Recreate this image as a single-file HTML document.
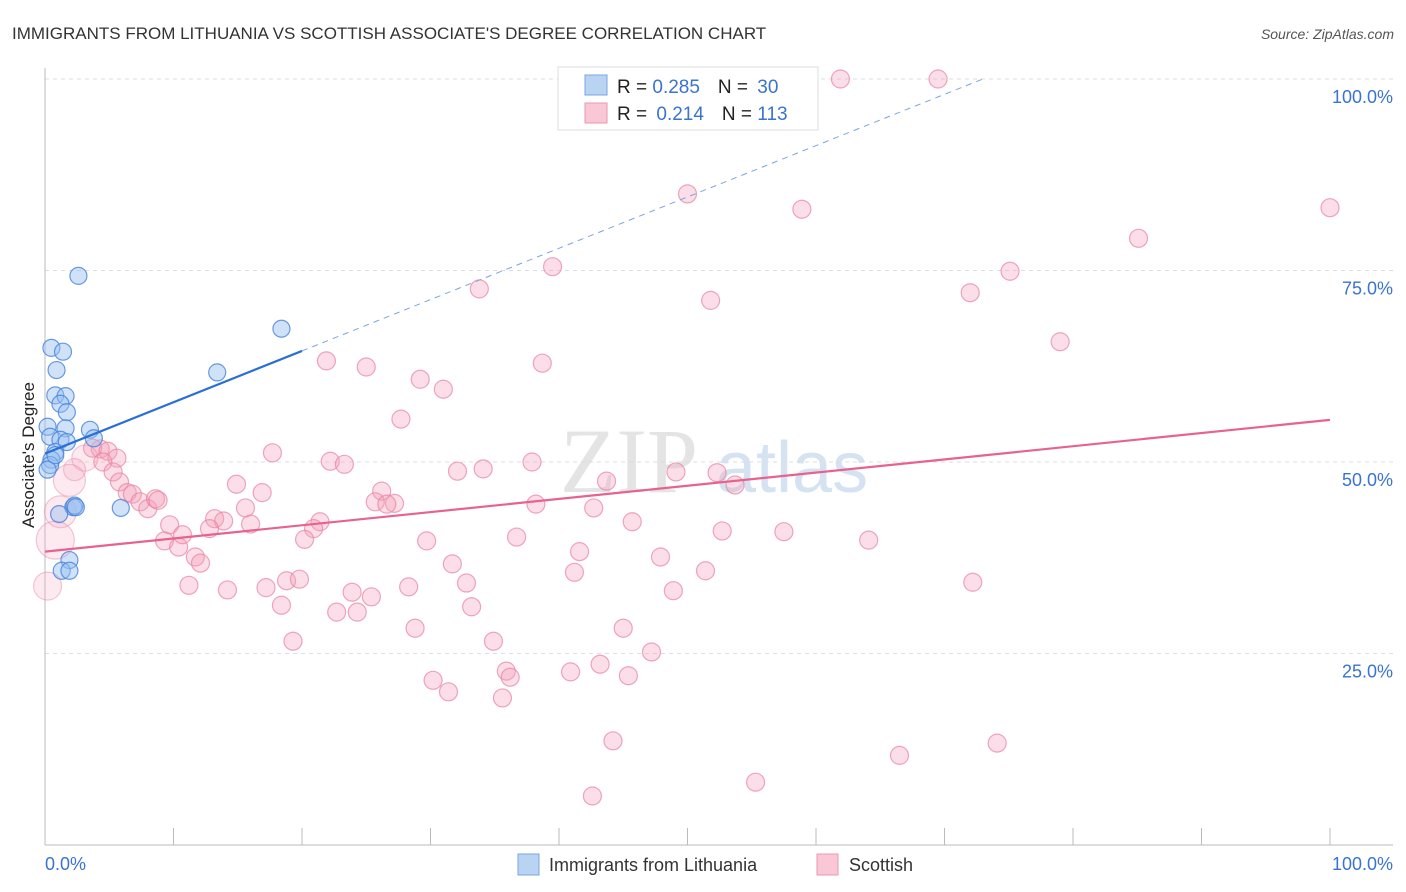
<!DOCTYPE html>
<html><head><meta charset="utf-8">
<style>
body{margin:0;background:#fff;font-family:"Liberation Sans",sans-serif;}
svg{display:block}
</style></head>
<body>
<svg id="chart" width="1406" height="892" xmlns="http://www.w3.org/2000/svg">
<text x="12" y="39" font-size="17" fill="#333">IMMIGRANTS FROM LITHUANIA VS SCOTTISH ASSOCIATE'S DEGREE CORRELATION CHART</text>
<text x="1394" y="39" font-size="14" fill="#555" font-style="italic" text-anchor="end">Source: ZipAtlas.com</text>
<text x="560" y="492" font-size="92" fill="#e4e4e4" font-family="Liberation Serif,serif">ZIP</text>
<text x="716" y="492" font-size="72" fill="#d4e2f2">atlas</text>
<g id="grid"></g>
<g id="axes"></g>
<g id="pink"></g>
<g id="blue"></g>
<g id="trends"></g>
<text x="34" y="455" font-size="17" fill="#222" text-anchor="middle" transform="rotate(-90 34 455)">Associate's Degree</text>
<g>
<rect x="558" y="67" width="260" height="63" fill="#fff" stroke="#ddd"/>
<rect x="585" y="75" width="22" height="20" fill="#b9d3f3" stroke="#7aa5e0"/>
<rect x="585" y="103" width="22" height="20" fill="#f9c7d5" stroke="#e99ab0"/>
<text x="617" y="93" font-size="19" fill="#222">R = <tspan fill="#3a73d0">0.285</tspan><tspan dx="18">N = </tspan><tspan fill="#3a73d0" dx="4">30</tspan></text>
<text x="617" y="120" font-size="19" fill="#222">R = <tspan fill="#3a73d0" dx="4">0.214</tspan><tspan dx="18">N = </tspan><tspan fill="#3a73d0">113</tspan></text>
</g>
<g>
<rect x="518" y="854" width="21" height="21" fill="#b9d3f3" stroke="#7aa5e0"/>
<text x="549" y="871" font-size="18" fill="#333">Immigrants from Lithuania</text>
<rect x="817" y="854" width="21" height="21" fill="#f9c7d5" stroke="#e99ab0"/>
<text x="849" y="871" font-size="18" fill="#333">Scottish</text>
</g>
</svg>
<script>
const yTicks=[25,50,75,100];
const yTickLabels=["25.0%","50.0%","75.0%","100.0%"];
const xTickVals=[0,10,20,30,40,50,60,70,80,90,100];
const xEndLabels=["0.0%","100.0%"];
const blueX=[0.2,0.4,0.5,1.4,0.9,0.8,1.6,1.2,1.7,1.6,1.2,1.7,0.8,0.5,0.4,0.2,3.5,3.8,2.6,18.4,13.4,5.9,2.2,2.3,1.1,1.9,1.3,1.9,0.8,2.4];
const blueY=[54.6,53.3,64.9,64.4,62.0,58.7,58.6,57.6,56.5,54.4,52.9,52.6,51.3,50.3,49.6,49.0,54.2,53.1,74.3,67.4,61.7,44.0,44.1,44.3,43.2,37.2,35.8,35.8,50.9,44.1];
const pinkX=[61.9,69.5,50.0,58.9,100,85.1,75.1,72.0,39.5,51.8,33.8,79.0,21.9,25.0,38.7,29.2,31.0,27.7,17.7,22.2,23.3,37.9,32.1,34.1,49.1,52.3,53.7,43.7,14.9,16.9,26.2,25.7,27.2,26.6,38.2,42.7,15.6,45.7,13.2,13.9,12.8,16.0,21.4,20.9,20.2,52.7,57.5,64.1,36.7,29.7,9.3,10.4,11.7,12.1,9.7,10.7,41.6,47.9,31.7,41.2,51.4,32.8,72.2,11.2,14.2,17.2,18.8,19.8,28.3,23.9,25.4,18.4,33.2,22.7,24.3,48.9,28.8,45.0,19.3,34.9,47.2,35.9,36.2,30.2,31.4,40.9,43.2,45.4,35.6,44.2,66.5,74.1,55.3,42.6,4.3,3.7,4.9,5.6,4.5,5.3,5.8,6.4,6.8,7.4,8.0,8.6,8.8,3.1,2.3,1.9,1.2,0.8,0.2];
const pinkY=[100,100,85.0,83.0,83.2,79.2,74.9,72.1,75.5,71.1,72.6,65.7,63.2,62.4,62.9,60.8,59.5,55.6,51.2,50.1,49.7,50.0,48.8,49.1,48.7,48.6,47.0,47.5,47.1,46.0,46.2,44.8,44.6,44.5,44.5,44.0,44.0,42.2,42.6,42.3,41.3,41.9,42.2,41.3,39.9,41.0,40.9,39.8,40.2,39.7,39.7,38.9,37.6,36.8,41.8,40.5,38.3,37.6,36.7,35.6,35.8,34.2,34.3,33.9,33.3,33.6,34.5,34.7,33.7,33.0,32.4,31.3,31.1,30.4,30.4,33.2,28.3,28.3,26.6,26.6,25.2,22.7,21.9,21.5,20.0,22.6,23.6,22.1,19.2,13.6,11.7,13.3,8.2,6.4,51.7,51.8,51.4,50.5,50.0,48.7,47.4,46.0,45.8,44.8,43.9,45.2,45.0,50.5,49.0,47.6,43.5,39.8,33.8];
const pinkBig={107:13,108:11,109:16,110:16,111:19,112:14};
const blueTrend=[51.1,0.67];
const pinkTrend=[38.3,0.172];
const X=v=>45+v*12.85, Y=v=>845-v*7.66;
const NS="http://www.w3.org/2000/svg";
function mk(tag,attrs,parent){const e=document.createElementNS(NS,tag);for(const k in attrs)e.setAttribute(k,attrs[k]);parent.appendChild(e);return e;}
const grid=document.getElementById('grid'),axes=document.getElementById('axes');
yTicks.forEach((t,i)=>{
  const l=mk('line',{x1:45,x2:1393,y1:Y(t),y2:Y(t),stroke:'#ddd','stroke-dasharray':'4,4'},grid);
  
  
  const tx=mk('text',{x:1393,y:Y(t)+24,'font-size':18,fill:'#3a73d0','text-anchor':'end'},axes);
  tx.textContent=yTickLabels[i];
  
  
});
const yl=mk('line',{x1:45,x2:45,y1:68,y2:845,stroke:'#bbb'},axes);


const xl=mk('line',{x1:45,x2:1393,y1:845,y2:845,stroke:'#bbb'},axes);


xTickVals.forEach(v=>{
  const t=mk('line',{x1:X(v),x2:X(v),y1:828,y2:845,stroke:'#bbb'},axes);
  
  
});
[[0,'start'],[100,'end']].forEach((a,i)=>{
  const t=mk('text',{x:i?1393:45,y:870,'font-size':18,fill:'#3a73d0','text-anchor':a[1]},axes);
  t.textContent=xEndLabels[i];
  
  
});
const pg=document.getElementById('pink');
pinkX.forEach((x,i)=>{
  const big=pinkBig[i];
  const c=mk('circle',{cx:X(x),cy:Y(pinkY[i]),r:big||9,fill:big?'rgba(244,160,185,0.22)':'rgba(244,160,185,0.35)',stroke:big?'rgba(232,130,160,0.45)':'rgba(232,130,160,0.7)','stroke-width':1.2},pg);
  
  
});
const bg=document.getElementById('blue');
blueX.forEach((x,i)=>{
  const c=mk('circle',{cx:X(x),cy:Y(blueY[i]),r:8.5,fill:'rgba(150,190,240,0.45)',stroke:'rgba(70,130,220,0.8)','stroke-width':1.2},bg);
  
  
});
const tg=document.getElementById('trends');
const bEnd=(100-blueTrend[0])/blueTrend[1];
const b1=mk('line',{x1:X(0),y1:Y(blueTrend[0]),x2:X(20),y2:Y(blueTrend[0]+20*blueTrend[1]),stroke:'#2a6fd6','stroke-width':2.2},tg);


const b2=mk('line',{x1:X(20),y1:Y(blueTrend[0]+20*blueTrend[1]),x2:X(bEnd),y2:Y(100),stroke:'#7aa5e0','stroke-width':1,'stroke-dasharray':'6,5'},tg);


const p1=mk('line',{x1:X(0),y1:Y(pinkTrend[0]),x2:X(100),y2:Y(pinkTrend[0]+100*pinkTrend[1]),stroke:'#e8628f','stroke-width':2.2},tg);


</script>
</body></html>
